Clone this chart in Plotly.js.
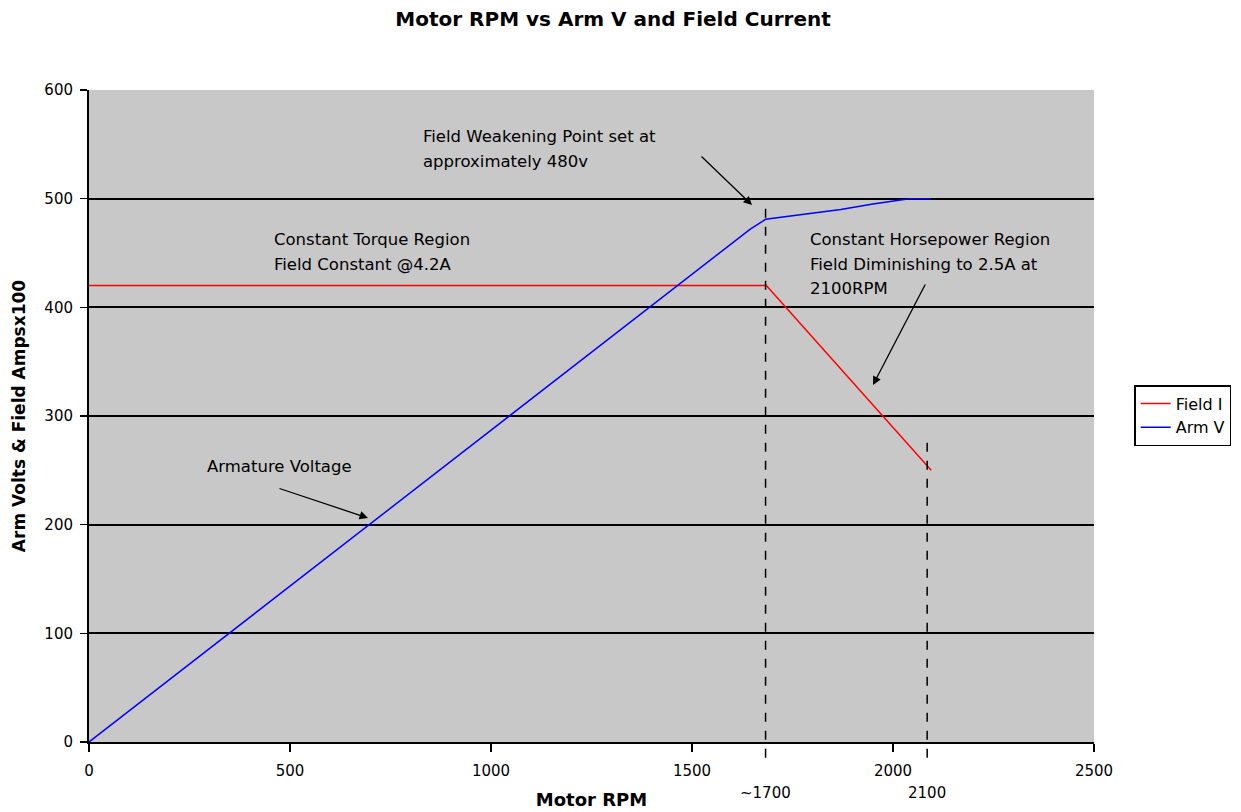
<!DOCTYPE html>
<html>
<head>
<meta charset="utf-8">
<script src="https://cdn.plot.ly/plotly-3.0.1.min.js"></script>
<style>html,body{margin:0;padding:0;background:#fff;}#chart{width:1241px;height:812px;}</style>
</head>
<body>
<div id="chart"></div>
<script>
// Field current (x100) vs RPM
const fieldRpm = [0, 1685, 2095];
const fieldI   = [420, 420, 250];
// Armature voltage vs RPM
const armRpm = [0, 1645, 1683, 1790, 1870, 1950, 2040, 2094];
const armV   = [0, 472, 481, 486, 490, 495, 500, 500];
// Axis ticks
const xTicks = [0, 500, 1000, 1500, 2000, 2500];
const yTicks = [0, 100, 200, 300, 400, 500, 600];
// Marker lines and their labels
const markerRpm = [1683, 2085];
const markerTop = [493, 281];
const markerLabels = ['~1700', '2100'];

const FONT = 'DejaVu Sans, Liberation Sans, Arial, sans-serif';
const X0 = 89, PXPERRPM = 1005 / 2500, Y0 = 742, PXPERV = 652 / 600;
const rx = px => (px - X0) / PXPERRPM;
const vy = py => (Y0 - py) / PXPERV;

const traces = [
  {x: fieldRpm, y: fieldI, name: 'Field I', mode: 'lines', line: {color: '#ff0000', width: 1.5}},
  {x: armRpm, y: armV, name: 'Arm V', mode: 'lines', line: {color: '#0000ff', width: 1.5}}
];

function textLine(txt, px, py) {
  return {x: rx(px), y: vy(py), xref: 'x', yref: 'y', text: txt, showarrow: false,
          xanchor: 'left', yanchor: 'middle', font: {family: FONT, size: 16.5, color: '#000'}};
}
function arrow(tailPx, tailPy, tipPx, tipPy) {
  return {x: rx(tipPx), y: vy(tipPy), xref: 'x', yref: 'y', text: '', showarrow: true,
          ax: tailPx - tipPx, ay: tailPy - tipPy, arrowhead: 2, arrowsize: 1.3, arrowwidth: 1.3, arrowcolor: '#000'};
}

const annotations = [
  textLine('Field Weakening Point set at', 421, 136),
  textLine('approximately 480v', 421, 161),
  textLine('Constant Torque Region', 272, 239),
  textLine('Field Constant @4.2A', 272, 264),
  textLine('Constant Horsepower Region', 808, 239),
  textLine('Field Diminishing to 2.5A at', 808, 264),
  textLine('2100RPM', 808, 288),
  textLine('Armature Voltage', 205, 466),
  arrow(700, 155, 752, 205),
  arrow(926, 283, 873, 385),
  arrow(278, 488, 368, 518)
];
markerLabels.forEach((t, i) => {
  annotations.push({x: markerRpm[i], y: -0.078, xref: 'x', yref: 'paper', text: t, showarrow: false,
    xanchor: 'center', yanchor: 'middle', font: {family: FONT, size: 15, color: '#000'}});
});

const shapes = markerRpm.map((r, i) => ({
  type: 'line', xref: 'x', yref: 'paper', x0: r, x1: r, y0: -0.024, y1: markerTop[i] / 600,
  line: {color: '#000', width: 1.5, dash: 'dash'}, layer: 'above'
}));

const layout = {
  width: 1241, height: 812,
  margin: {l: 89, r: 147, t: 90, b: 70, autoexpand: false},
  paper_bgcolor: '#ffffff', plot_bgcolor: '#c8c8c8',
  font: {family: FONT, color: '#000', size: 15},
  title: {text: '<b>Motor RPM vs Arm V and Field Current</b>', x: 0.494, xref: 'container', xanchor: 'center',
          y: 1 - 19 / 812, yref: 'container', yanchor: 'middle', font: {family: FONT, size: 20, color: '#000'}},
  xaxis: {range: [0, 2500], tickvals: xTicks, ticktext: xTicks.map(String), showgrid: false, zeroline: false,
          showline: true, linecolor: '#000', linewidth: 2, ticks: 'outside', ticklen: 8, tickwidth: 1.5, tickcolor: '#000',
          tickfont: {family: FONT, size: 15}, ticklabelstandoff: 6, automargin: false,
          title: {text: '<b>Motor RPM</b>', standoff: 14, font: {family: FONT, size: 18}}},
  yaxis: {range: [0, 600], tickvals: yTicks, ticktext: yTicks.map(String), showgrid: true, gridcolor: '#000', gridwidth: 2,
          zeroline: false, showline: true, linecolor: '#000', linewidth: 2, ticks: 'outside', ticklen: 7, tickwidth: 1.5,
          tickcolor: '#000', tickfont: {family: FONT, size: 15}, ticklabelstandoff: 4, automargin: false,
          title: {text: '<b>Arm Volts &amp; Field Ampsx100</b>', standoff: 14, font: {family: FONT, size: 17}}},
  showlegend: true,
  legend: {x: 1.04, y: 0.5475, xanchor: 'left', yanchor: 'top', bgcolor: '#ffffff', bordercolor: '#000', borderwidth: 1.5,
           font: {family: FONT, size: 16, color: '#000'}, tracegroupgap: 0, itemwidth: 30},
  annotations: annotations,
  shapes: shapes
};

Plotly.newPlot('chart', traces, layout, {displayModeBar: false, staticPlot: true});
</script>
</body>
</html>
